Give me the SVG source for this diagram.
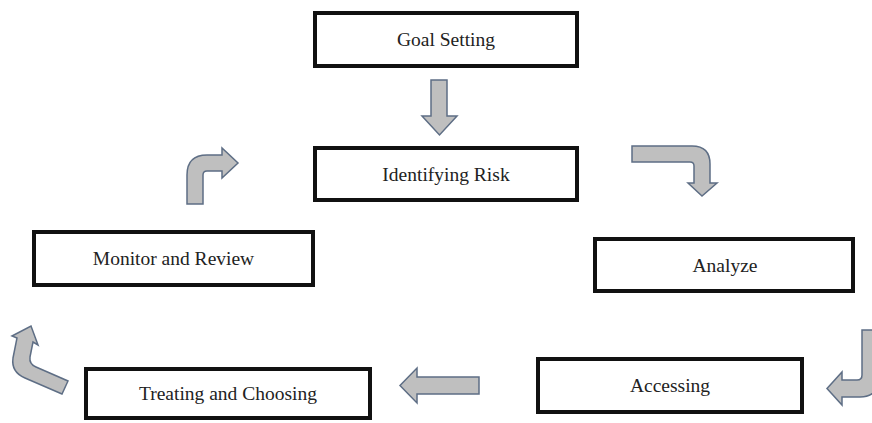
<svg xmlns="http://www.w3.org/2000/svg" width="872" height="423" viewBox="0 0 872 423">
<style>
.box{fill:#fff;stroke:#111;stroke-width:4}
.lbl{font-family:"Liberation Serif","Times New Roman",serif;font-size:19.5px;fill:#222;text-anchor:middle}
.arr{fill:#bfbfbf;stroke:#5e6e85;stroke-width:1.5;stroke-linejoin:miter}
</style>
<rect width="872" height="423" fill="#fff"/>
<g id="connectors">
<path class="arr" d="M431,80 L447,80 L447,116 L457,116 L439.5,135 L422,116 L431,116 Z"/>
<path class="arr" d="M632,146 L692,146 Q710,146 710,164 L710,183 L717,183 L702,196 L688,183 L694,183 L694,166 Q694,162 690,162 L632,162 Z"/>
<path class="arr" d="M862,330 L862,375 Q862,380 857,380 L842,380 L842,372 L827,388.5 L842,405 L842,397 L860,397 Q878,397 878,379 L878,330 Z"/>
<path class="arr" d="M479,377 L417,377 L417,368 L400,385.5 L417,403 L417,394 L479,394 Z"/>
<path class="arr" d="M62,394 L25,378 Q11,372 13,358 L17,338 L12,336 L31,326 L38,345 L33,342 L30,357 Q29,364 36,367 L68,381 Z"/>
<path class="arr" d="M187,204 L187,175 Q187,155 207,155 L222,155 L222,148 L238,163 L222,178 L222,171 L207,171 Q203,171 203,175 L203,204 Z"/>
</g>
<g id="goal-setting">
<rect class="box" x="315" y="13" width="262" height="53"/>
<text class="lbl" x="446" y="46">Goal Setting</text>
</g>
<g id="identifying-risk">
<rect class="box" x="315" y="148" width="262" height="52"/>
<text class="lbl" x="446" y="180.5">Identifying Risk</text>
</g>
<g id="monitor-review">
<rect class="box" x="34" y="232" width="279" height="53"/>
<text class="lbl" x="173.5" y="265">Monitor and Review</text>
</g>
<g id="analyze">
<rect class="box" x="595" y="239" width="258" height="52"/>
<text class="lbl" x="725" y="271.5">Analyze</text>
</g>
<g id="accessing">
<rect class="box" x="538" y="359" width="264" height="53"/>
<text class="lbl" x="670" y="392">Accessing</text>
</g>
<g id="treating-choosing">
<rect class="box" x="86" y="369" width="284" height="49"/>
<text class="lbl" x="228" y="400">Treating and Choosing</text>
</g>
</svg>
